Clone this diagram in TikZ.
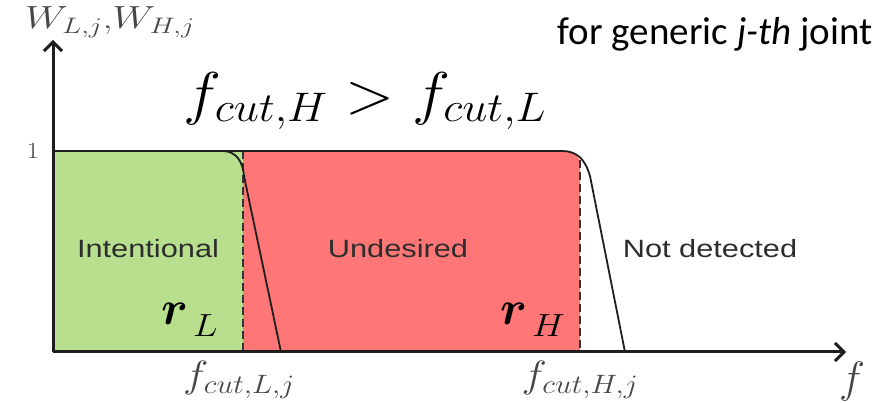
\RequirePackage{fix-cm}
\documentclass[tikz,border=0pt]{standalone}
\usepackage{amsmath,bm,graphicx}
\usepackage{fontspec}
\newfontfamily\carlito{Carlito}
\newfontfamily\arialf{Liberation Sans}
\usetikzlibrary{arrows.meta}
\definecolor{gfill}{RGB}{184,223,142}
\definecolor{rfill}{RGB}{255,118,118}
\definecolor{axisc}{RGB}{30,30,30}
\definecolor{labc}{RGB}{70,70,70}
\definecolor{regc}{RGB}{45,45,45}
\tikzset{
  axisline/.style={line width=3pt, draw=axisc, -{Straight Barb[length=9pt,width=18pt,line width=3pt]}},
  curveline/.style={line width=1.8pt, draw=axisc},
  dashline/.style={line width=2.2pt, draw=axisc!90, dash pattern=on 8pt off 4pt},
  reglabel/.style={inner sep=0pt, text=regc, xscale=1.23, font=\arialf\fontsize{25}{27}\selectfont},
  graylab/.style={inner sep=0pt, text=labc},
  biglab/.style={inner sep=0pt, text=black}
}
\newcommand{\rvec}[1]{\fontsize{48}{50}\selectfont$\boldsymbol{r}$\kern5pt\raisebox{-12pt}{\scalebox{1.15}[1]{\fontsize{32}{34}\selectfont$#1$}}}
\begin{document}
\begin{tikzpicture}[x=1pt,y=-1pt]
\useasboundingbox (0,0) rectangle (895,403);
% regions
\fill[gfill] (53,151) rectangle (243,352);
\fill[rfill] (243,151) -- (562,151) .. controls (574,151) and (580,157) .. (580,163) -- (580,352) -- (243,352) -- cycle;
% coordinates
\coordinate (O) at (53,352);
\coordinate (ytip) at (53,40);
\coordinate (xtip) at (846,352);
\coordinate (dL) at (243,151);
\coordinate (dLb) at (243,352);
\coordinate (dH) at (580,160);
\coordinate (dHb) at (580,352);
% dashed lines
\draw[dashline] (dL) -- (dLb);
\draw[dashline] (dH) -- (dHb);
% curves
\draw[curveline] (53,151) -- (223,151) .. controls (236,151) and (243,162) .. (244,176) -- (281,352);
\draw[curveline] (223,151) -- (562,151) .. controls (577,151) and (585,159) .. (590,176) -- (625,352);
% axes
\draw[axisline] (O) -- (ytip);
\draw[axisline] (O) -- (xtip);
% labels
\node[graylab, xscale=1.26, font=\fontsize{32}{34}\selectfont] (wl) at (110,22) {$W_{L,j}$,$W_{H,j}$};
\node[biglab, xscale=1.09, font=\fontsize{59}{62}\selectfont] (title) at (365,101) {$f_{cut,H} > f_{cut,L}$};
\node[biglab, font=\carlito\fontsize{39}{42}\selectfont] (note) at (715,34) {for generic \textit{j-th} joint};
\node[graylab, xscale=1.15, font=\fontsize{23}{25}\selectfont] (one) at (33,151) {1};
\node[reglabel] (intent) at (148,249) {Intentional};
\node[reglabel] (undes) at (398,249) {Undesired};
\node[reglabel] (notdet) at (710,249) {Not detected};
\node[biglab, anchor=base west] (rL) at (161,325) {\rvec{L}};
\node[biglab, anchor=base west] (rH) at (500,325) {\rvec{H}};
\node[graylab, xscale=1.13, font=\fontsize{38}{40}\selectfont] (fL) at (239,380) {$f_{cut,L,j}$};
\node[graylab, xscale=1.13, font=\fontsize{38}{40}\selectfont] (fH) at (580,380) {$f_{cut,H,j}$};
\node[graylab, font=\fontsize{44}{46}\selectfont] (fx) at (852,382) {$f$};
\end{tikzpicture}
\end{document}
